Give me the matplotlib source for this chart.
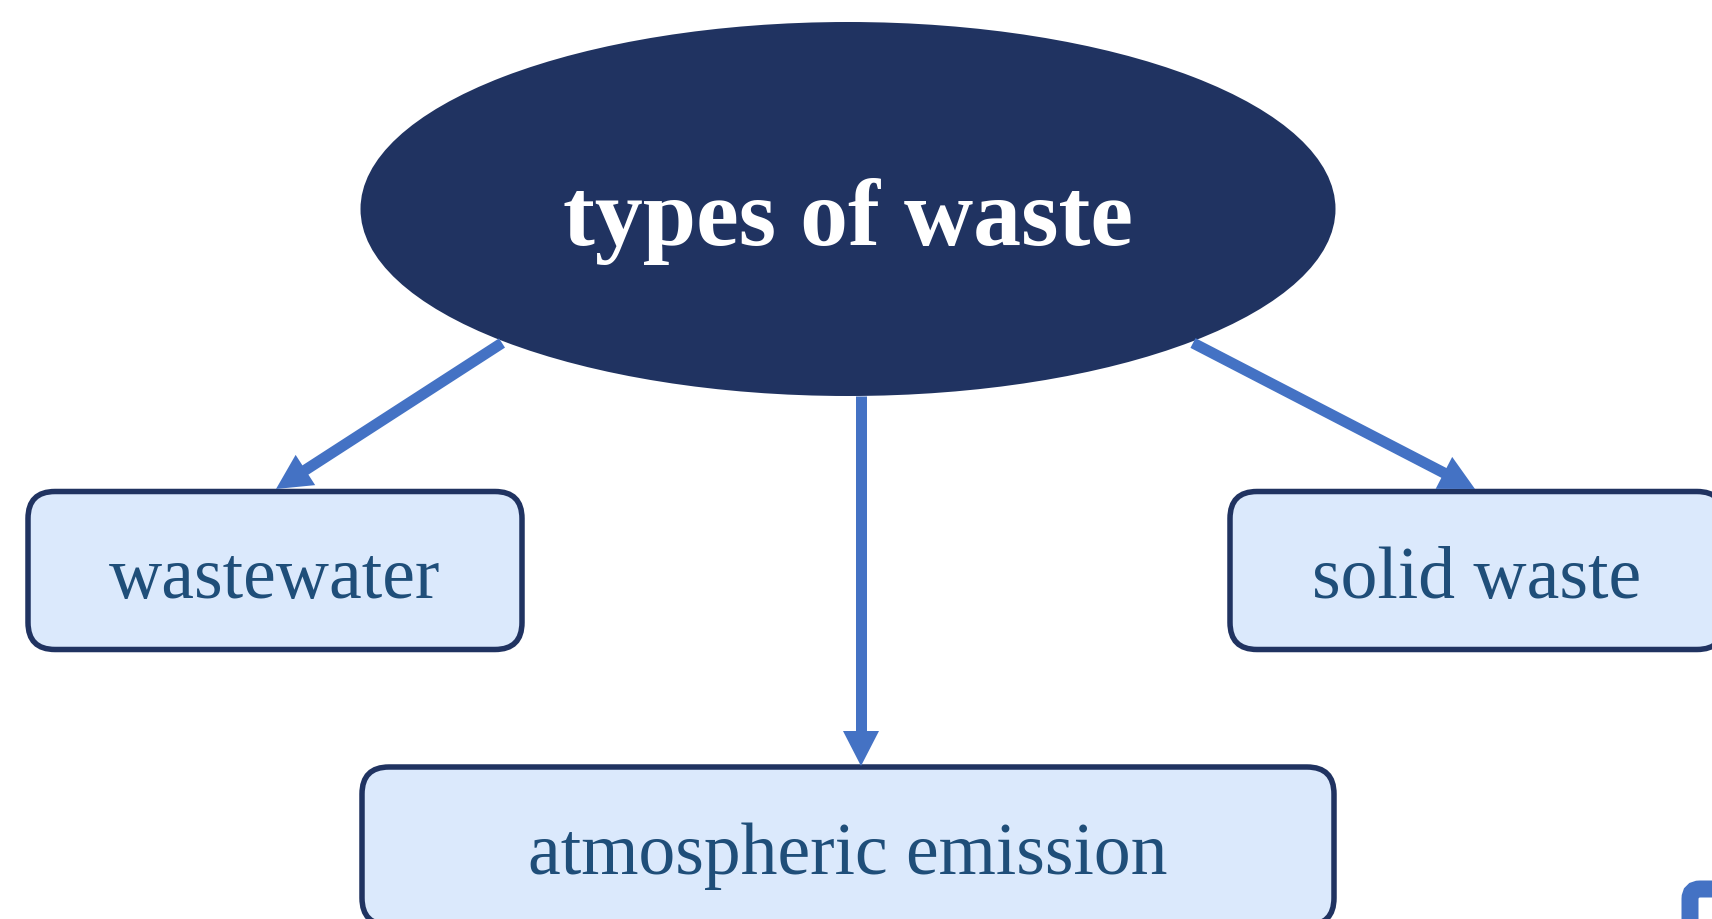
import numpy as np
import matplotlib
matplotlib.use("Agg")
import matplotlib.pyplot as plt
from matplotlib.patches import Ellipse, FancyBboxPatch, Polygon

# labels of the diagram
title = "types of waste"
children = ["wastewater", "atmospheric emission", "solid waste"]

# colours
navy = "#203361"
arrow_blue = "#4472c4"
box_fill = "#dbe9fc"
text_blue = "#1f4e79"

# layout (pixel coordinates, y downwards)
W, H = 1712, 919
ell_center = (848, 209)
ell_size = (975, 374)
box_centers = [(275, 570.5), (848, 846), (1477, 570.5)]
box_sizes = [(494, 158), (972, 158), (494, 158)]
text_base = [598, 874, 598]
arrow_start = [(502, 343), (861, 396), (1193, 343)]
arrow_tip = [(276, 489), (861, 766), (1475, 489)]

fig = plt.figure(figsize=(W / 100, H / 100), dpi=100)
ax = fig.add_axes([0, 0, 1, 1])
ax.set_xlim(0, W)
ax.set_ylim(H, 0)
ax.axis("off")

px = 72 / 100  # pixels -> points

# ellipse with title
ax.add_patch(Ellipse(ell_center, ell_size[0], ell_size[1], facecolor=navy, edgecolor="none", zorder=2))
ax.text(ell_center[0], 245, title, color="white", fontsize=69, fontweight="bold",
        family="Liberation Serif", ha="center", va="baseline", zorder=3)

# child boxes
for (cx, cy), (bw, bh), lab, yb in zip(box_centers, box_sizes, children, text_base):
    ax.add_patch(FancyBboxPatch((cx - bw / 2, cy - bh / 2), bw, bh,
                                boxstyle="round,pad=0,rounding_size=27",
                                facecolor=box_fill, edgecolor=navy, linewidth=5.5 * px, zorder=2))
    ax.text(cx, yb, lab, color=text_blue, fontsize=53, family="Liberation Serif",
            ha="center", va="baseline", zorder=3)

# arrows
head_len, head_w = 35, 36
for (x0, y0), (x1, y1) in zip(arrow_start, arrow_tip):
    d = np.array([x1 - x0, y1 - y0], dtype=float)
    L = np.hypot(*d)
    u = d / L
    n = np.array([-u[1], u[0]])
    base = np.array([x1, y1]) - u * head_len
    ax.plot([x0, base[0] + u[0] * 2], [y0, base[1] + u[1] * 2], color=arrow_blue,
            linewidth=11 * px, solid_capstyle="butt", zorder=4)
    ax.add_patch(Polygon([(x1, y1), base + n * head_w / 2, base - n * head_w / 2],
                         closed=True, facecolor=arrow_blue, edgecolor="none", zorder=4))

# corner of a partly visible box in the bottom right
ax.add_patch(FancyBboxPatch((1690, 889), 200, 200, boxstyle="round,pad=0,rounding_size=10",
                            facecolor="white", edgecolor=arrow_blue, linewidth=17 * px, zorder=2))

fig.savefig("out.png", dpi=100)
